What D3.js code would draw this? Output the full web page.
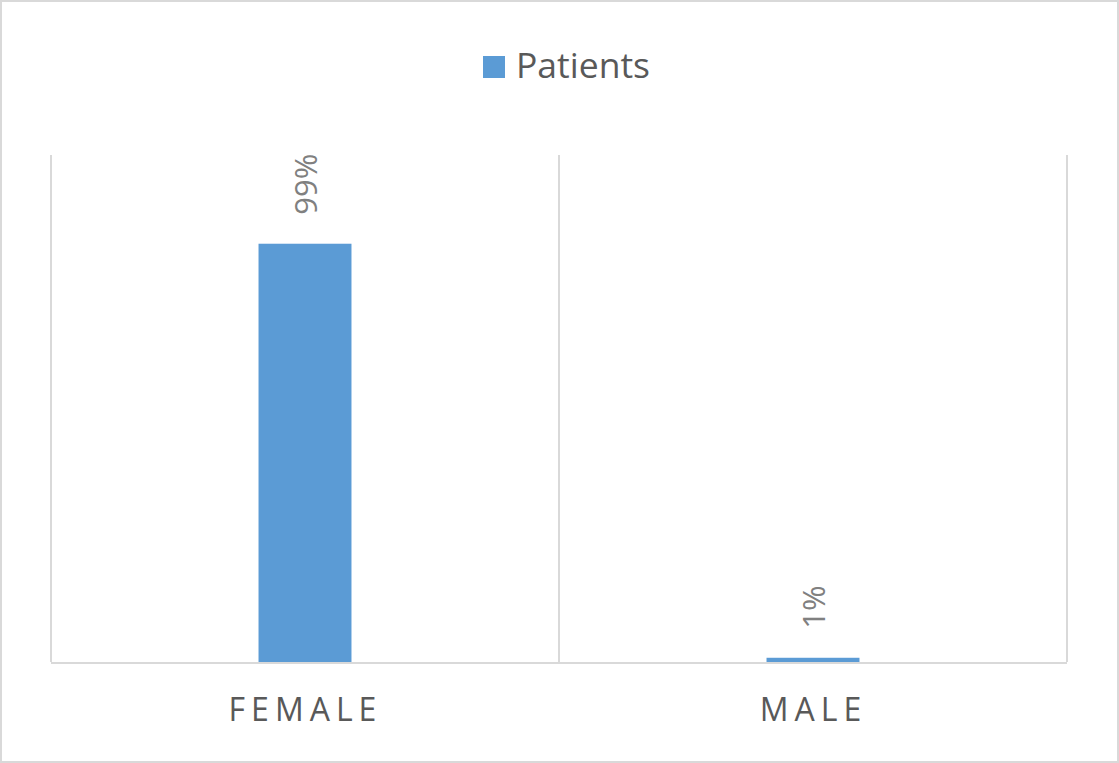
<!DOCTYPE html>
<html><head><meta charset="utf-8">
<script src="https://cdn.jsdelivr.net/npm/d3@7/dist/d3.min.js"></script>
<style>html,body{margin:0;padding:0;background:#fff;}</style>
</head><body>
<svg id="c" width="1119" height="763"></svg>
<script>
const categories = ["FEMALE", "MALE"];
const seriesName = "Patients";
const values = [0.99, 0.01];
const valueLabels = ["99%", "1%"];

const W = 1119, H = 763;
const svg = d3.select("#c");
const font = "'Open Sans', sans-serif";
const blue = "#5b9bd5";

svg.append("rect").attr("x", 1).attr("y", 1).attr("width", W - 2).attr("height", H - 2)
  .attr("fill", "#fff").attr("stroke", "#d9d9d9").attr("stroke-width", 2);

const x = d3.scaleBand().domain(categories).range([51, 1067]).paddingInner(0).paddingOuter(0);
const y = d3.scaleLinear().domain([0, 1.2]).range([662, 155]);

// vertical category gridlines
const bounds = [51].concat(categories.map(c => x(c) + x.bandwidth()));
svg.append("g").selectAll("line").data(bounds).join("line")
  .attr("x1", d => d).attr("x2", d => d).attr("y1", y(1.2)).attr("y2", y(0))
  .attr("stroke", "#d9d9d9").attr("stroke-width", 2);

// bars
const bw = x.bandwidth() * 0.183;
svg.append("g").selectAll("rect").data(values).join("rect")
  .attr("x", (d, i) => x(categories[i]) + x.bandwidth() / 2 - bw / 2)
  .attr("width", bw)
  .attr("y", d => y(d))
  .attr("height", d => y(0) - y(d))
  .attr("fill", blue);

// baseline
svg.append("line").attr("x1", 51).attr("x2", 1067).attr("y1", y(0) + 1).attr("y2", y(0) + 1)
  .attr("stroke", "#d9d9d9").attr("stroke-width", 2);

// value labels rotated
svg.append("g").selectAll("text").data(values).join("text")
  .attr("transform", (d, i) => `translate(${x(categories[i]) + x.bandwidth() / 2 + 12},${y(d) - 29}) rotate(-90)`)
  .attr("text-anchor", "start")
  .attr("font-family", font).attr("font-size", 31).attr("fill", "#808080")
  .text((d, i) => valueLabels[i]);

// category labels
svg.append("g").selectAll("text").data(categories).join("text")
  .attr("x", d => x(d) + x.bandwidth() / 2 + 0.5)
  .attr("y", 721)
  .attr("text-anchor", "middle")
  .attr("font-family", font).attr("font-size", 32).attr("fill", "#595959")
  .attr("letter-spacing", "6px")
  .text(d => d);

// legend
const lg = svg.append("g");
lg.append("rect").attr("x", 483).attr("y", 56).attr("width", 22).attr("height", 22).attr("fill", blue);
lg.append("text").attr("x", 516).attr("y", 78).attr("font-family", font).attr("font-size", 35.5)
  .attr("fill", "#595959").text(seriesName);
</script>
</body></html>
